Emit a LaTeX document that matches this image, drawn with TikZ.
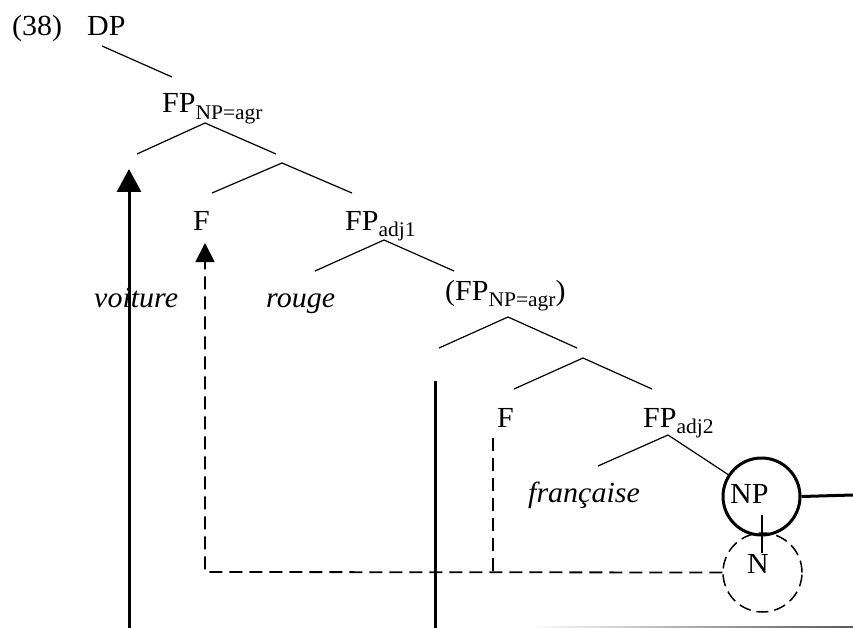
\documentclass[tikz,border=0pt]{standalone}
\usepackage{fontspec}
\setmainfont{Liberation Serif}
\usetikzlibrary{arrows.meta}
\newcommand{\sq}[1]{\scalebox{1}[0.97]{#1}}
\newcommand{\mysub}[1]{\raisebox{-6.5pt}{\fontsize{21.5}{24}\selectfont #1}}
\begin{document}
\begin{tikzpicture}[x=1pt,y=-1pt,
  lbl/.style={anchor=base west,inner sep=0pt,font=\fontsize{30}{34}\selectfont},
  br/.style={line width=1.2pt},
  thickln/.style={line width=3pt},
  dsh/.style={line width=1.8pt,dash pattern=on 13pt off 7pt},
  circ/.style={circle,minimum size=77pt,inner sep=0pt}]
\useasboundingbox (0,0) rectangle (853,628);
% labels
\node[lbl] (ex) at (12,36) {\sq{(38)}};
\node[lbl] (dp) at (87,36) {\sq{DP}};
\node[lbl] (fp1) at (162,113) {\sq{FP\mysub{NP=agr}}};
\node[lbl] (f1) at (193,230) {\sq{F}};
\node[lbl] (fpa1) at (345,230) {\sq{FP\mysub{adj1}}};
\node[lbl] (voit) at (94,307) {\sq{\itshape voiture}};
\node[lbl] (rouge) at (266,307) {\sq{\itshape rouge}};
\node[lbl] (fp2) at (445,300) {\sq{(FP\mysub{NP=agr})}};
\node[lbl] (f2) at (497,427) {\sq{F}};
\node[lbl] (fpa2) at (643,427) {\sq{FP\mysub{adj2}}};
\node[lbl] (fr) at (528,502) {\sq{\itshape française}};
\node[circ,draw,thickln] (npc) at (761.5,496.5) {};
\node[circ,draw,dsh,dash pattern=on 12pt off 6pt,line width=1.5pt,minimum size=79pt] (nc) at (762.5,572.5) {};
\node[lbl] (np) at (730,503) {\sq{NP}};
\node[lbl] (n) at (747,573) {\sq{N}};
% tree coordinates
\coordinate (a0s) at (102,46); \coordinate (a0e) at (172,77);
\coordinate (a1) at (205,123); \coordinate (a1l) at (137,154); \coordinate (a1r) at (276,154);
\coordinate (a2) at (282,163); \coordinate (a2l) at (212,193); \coordinate (a2r) at (352,193);
\coordinate (a3) at (384,240); \coordinate (a3l) at (315,271); \coordinate (a3r) at (454,271);
\coordinate (a4) at (508,317); \coordinate (a4l) at (439,348); \coordinate (a4r) at (577,348);
\coordinate (a5) at (583,358); \coordinate (a5l) at (514,389); \coordinate (a5r) at (652,389);
\coordinate (a6) at (668,435); \coordinate (a6l) at (598,466);
\draw[br] (a0s) -- (a0e);
\draw[br] (a1l) -- (a1) -- (a1r);
\draw[br] (a2l) -- (a2) -- (a2r);
\draw[br] (a3l) -- (a3) -- (a3r);
\draw[br] (a4l) -- (a4) -- (a4r);
\draw[br] (a5l) -- (a5) -- (a5r);
\draw[br] (a6l) -- (a6) -- (npc);
% N to NP
\coordinate (vt) at (762,515); \coordinate (vb) at (762,553);
\draw[br] (vt) -- (vb);
% line to right
\coordinate (rt) at (853,495);
\draw[thickln] (npc.east) -- (rt);
% movement arrows
\coordinate (b1) at (129,628); \coordinate (t1) at (129,169);
\draw[thickln,-{Triangle[length=23pt,width=24pt]}] (b1) -- (t1);
\coordinate (m1) at (435,381); \coordinate (m2) at (435,628);
\draw[thickln] (m1) -- (m2);
\coordinate (d0) at (205,572); \coordinate (dt) at (205,243);
\coordinate (d2t) at (493,438); \coordinate (d2b) at (493,572);
\draw[dsh] (d2t) -- (d2b);
\draw[dsh,-{Triangle[length=19pt,width=19pt]}] (nc.west) -- (d0) -- (dt);
% bottom faint edge
\shade[left color=white,right color=gray!70!black] (528,626) rectangle (853,628);
\end{tikzpicture}
\end{document}
